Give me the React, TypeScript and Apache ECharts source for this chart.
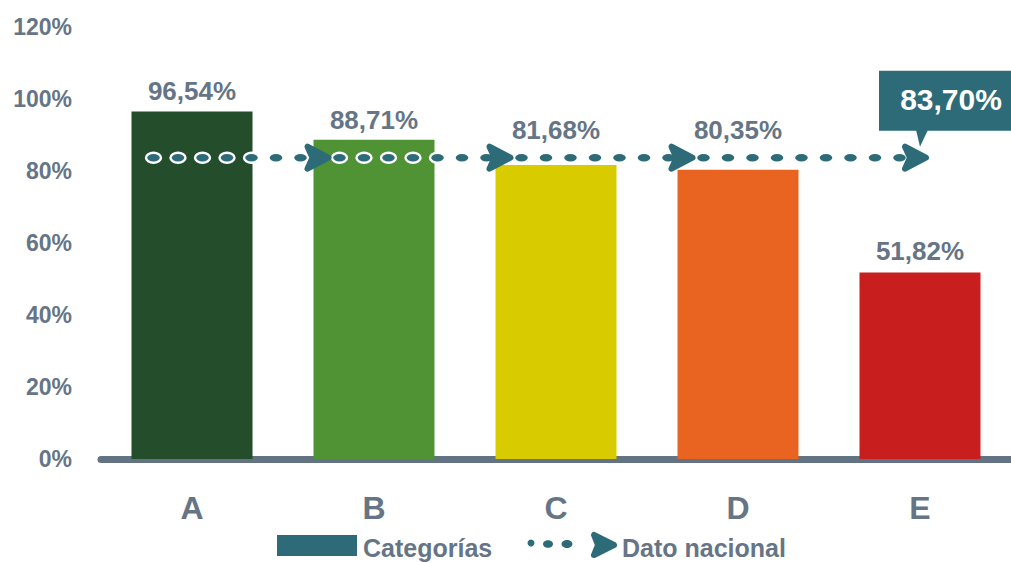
import React, { useEffect, useRef } from "react";
import * as echarts from "echarts";

const categories = ["A", "B", "C", "D", "E"];
const values = [96.54, 88.71, 81.68, 80.35, 51.82];
const barColors = ["#244d2b", "#509334", "#d8cc00", "#e86420", "#c81f1e"];
const labelDistances = [7, 7, 22, 27, 8];
const nationalValue = 83.7;
const yTicks = [0, 20, 40, 60, 80, 100, 120];
const legendNames = ["Categorías", "Dato nacional"];

const TEAL = "#2e6b78";
const GRAY = "#667586";
const FONT = "Liberation Sans, Arial, Helvetica, sans-serif";

const fmt = (v: number) => v.toFixed(2).replace(".", ",") + "%";

function dotsBetween(x0: number, x1: number, y: number, children: any[]) {
  const step = 24.5;
  for (let x = x0; x <= x1 - 10; x += step) {
    children.push({
      type: "ellipse",
      shape: { cx: x + 7, cy: y, rx: 7.5, ry: 5 },
      style: { fill: TEAL, stroke: "#ffffff", lineWidth: 2.4 },
    });
  }
}

function arrow(xt: number, y: number) {
  return {
    type: "polygon",
    shape: {
      points: [
        [xt, y],
        [xt - 21, y - 11],
        [xt - 16, y],
        [xt - 21, y + 11],
      ],
    },
    style: { fill: TEAL, stroke: TEAL, lineWidth: 6, lineJoin: "round" },
  };
}

export default function App() {
  const ref = useRef<HTMLDivElement>(null);
  useEffect(() => {
    if (!ref.current) return;
    const chart = echarts.init(ref.current, undefined, { renderer: "svg" });
    const option: any = {
      animation: false,
      textStyle: { fontFamily: FONT },
      grid: { left: 101, right: 0, top: 27, bottom: 104 },
      xAxis: {
        type: "category",
        data: categories,
        axisLine: {
          show: true,
          lineStyle: { color: "#637384", width: 7, cap: "round" },
        },
        axisTick: { show: false },
        axisLabel: {
          color: GRAY,
          fontSize: 32,
          fontWeight: "bold",
          fontFamily: FONT,
          margin: 33,
        },
      },
      yAxis: {
        type: "value",
        min: yTicks[0],
        max: yTicks[yTicks.length - 1],
        interval: 20,
        splitLine: { show: false },
        axisLine: { show: false },
        axisTick: { show: false },
        axisLabel: {
          color: GRAY,
          fontSize: 23,
          fontWeight: "bold",
          fontFamily: FONT,
          margin: 29,
          formatter: (v: number) => `${v}%`,
        },
      },
      series: [
        {
          type: "bar",
          barWidth: 121,
          data: values.map((v, i) => ({
            value: v,
            itemStyle: { color: barColors[i] },
            label: { distance: labelDistances[i] },
          })),
          label: {
            show: true,
            position: "top",
            color: GRAY,
            fontSize: 26,
            fontWeight: "bold",
            fontFamily: FONT,
            formatter: (p: any) => fmt(p.value),
          },
          z: 2,
        },
        {
          type: "custom",
          data: [[0, nationalValue]],
          z: 5,
          clip: false,
          renderItem: (params: any, api: any) => {
            const band = api.size([1, 0])[0];
            const y = api.coord([0, nationalValue])[1];
            const tips: number[] = [];
            for (let i = 1; i < categories.length; i++) {
              const cx = api.coord([i, nationalValue])[0];
              tips.push(i === categories.length - 1 ? cx + 6 : cx - band * 0.25);
            }
            const children: any[] = [];
            let start = api.coord([0, nationalValue])[0] - band * 0.25;
            tips.forEach((t) => {
              dotsBetween(start, t - 16, y, children);
              start = t + 4;
            });
            tips.forEach((t) => children.push(arrow(t, y)));
            // callout
            const ex = api.coord([categories.length - 1, nationalValue])[0];
            const boxL = ex - 41;
            const boxR = ex + 95;
            const boxT = y - 87;
            const boxB = y - 27;
            children.push({
              type: "rect",
              shape: { x: boxL, y: boxT, width: boxR - boxL, height: boxB - boxT },
              style: { fill: TEAL },
            });
            children.push({
              type: "polygon",
              shape: {
                points: [
                  [ex - 4, boxB - 1],
                  [ex + 8, boxB - 1],
                  [ex, y - 11],
                ],
              },
              style: { fill: TEAL },
            });
            children.push({
              type: "text",
              x: ex + 31,
              y: (boxT + boxB) / 2 - 1,
              style: {
                text: fmt(nationalValue),
                fill: "#ffffff",
                fontSize: 30,
                fontWeight: "bold",
                fontFamily: FONT,
                align: "center",
                verticalAlign: "middle",
              },
            });
            return { type: "group", children };
          },
        },
      ],
      graphic: [
        {
          type: "rect",
          left: 277,
          top: 535,
          shape: { width: 80, height: 21 },
          style: { fill: TEAL },
        },
        {
          type: "text",
          left: 363,
          top: 534,
          style: {
            text: legendNames[0],
            fill: GRAY,
            fontSize: 25,
            lineHeight: 27,
            fontWeight: "bold",
            fontFamily: FONT,
          },
        },
        { type: "circle", shape: { cx: 531, cy: 543, r: 3.5 }, style: { fill: TEAL } },
        { type: "ellipse", shape: { cx: 548, cy: 544, rx: 5, ry: 3.8 }, style: { fill: TEAL } },
        { type: "ellipse", shape: { cx: 567, cy: 544, rx: 5.5, ry: 4 }, style: { fill: TEAL } },
        {
          type: "polygon",
          shape: {
            points: [
              [614, 545],
              [594, 535],
              [598, 545],
              [594, 555],
            ],
          },
          style: { fill: TEAL, stroke: TEAL, lineWidth: 6, lineJoin: "round" },
        },
        {
          type: "text",
          left: 622,
          top: 534,
          style: {
            text: legendNames[1],
            fill: GRAY,
            fontSize: 25,
            lineHeight: 27,
            fontWeight: "bold",
            fontFamily: FONT,
          },
        },
      ],
    };
    chart.setOption(option);
    return () => chart.dispose();
  }, []);
  return <div ref={ref} style={{ width: 1011, height: 563, position: "absolute", left: 0, top: 0 }} />;
}
